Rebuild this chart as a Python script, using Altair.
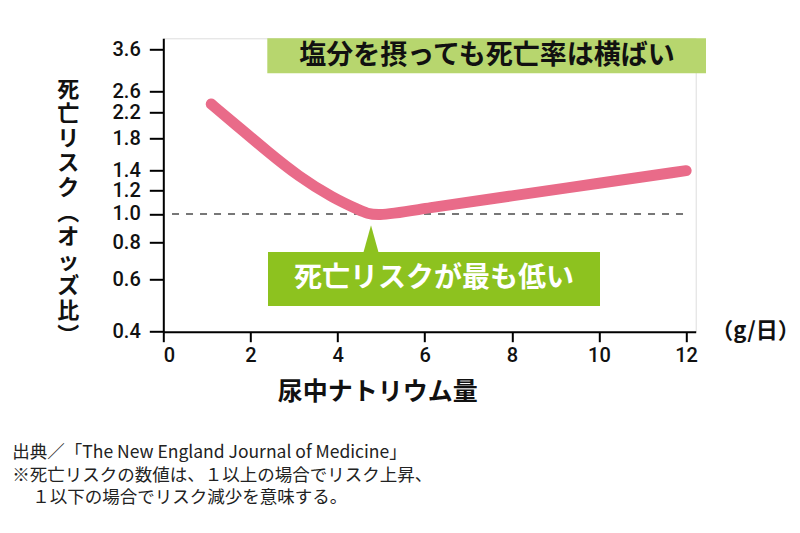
import altair as alt
import pandas as pd

# ---- data ----
sodium = [1.1, 1.6, 2.4, 3.1, 3.9, 4.5, 4.85, 6, 8, 10, 12]
odds = [2.35, 2.04, 1.62, 1.34, 1.13, 1.03, 0.975, 1.045, 1.15, 1.27, 1.40]
y_ticks = [0.4, 0.6, 0.8, 1.0, 1.2, 1.4, 1.8, 2.2, 2.6, 3.6]
x_ticks = [0, 2, 4, 6, 8, 10, 12]
ref_x = [0.2, 12]
ref_y = [1.0]

top_label = ["塩分を摂っても死亡率は横ばい"]
min_label = ["死亡リスクが最も低い"]
unit_label = ["（g/日）"]
x_title = "尿中ナトリウム量"
y_title_chars = ["死", "亡", "リ", "ス", "ク", "︵", "オ", "ッ", "ズ", "比", "︶"]
footer_lines_a = [
    "出典／「The New England Journal of Medicine」",
    "※死亡リスクの数値は、１以上の場合でリスク上昇、",
]
footer_line_b = ["１以下の場合でリスク減少を意味する。"]

CJK = "Noto Sans CJK JP"
NUM = "Roboto"
PINK = "#e96b89"
LIGHT_GREEN = "#b7d66e"
GREEN = "#8dc21f"

W, H = 532.4, 293.4

curve_df = pd.DataFrame({"sodium": sodium, "odds": odds})
ref_df = pd.DataFrame({"x0": [ref_x[0]], "x1": [ref_x[1]], "y": ref_y})

x_scale = alt.Scale(domain=[0, 12.22], nice=False, zero=False)
y_scale = alt.Scale(type="log", domain=[0.4, 3.92], nice=False)

x_axis = alt.Axis(
    values=x_ticks, format="d", grid=False, labelOverlap=False,
    domainColor="black", domainWidth=2, tickColor="black", tickWidth=2,
    tickSize=10, labelPadding=4, labelFont=NUM, labelFontSize=20,
    labelFontWeight=500, labelColor="#111",
    title=x_title, titleFont=CJK, titleFontSize=25, titleFontWeight="bold",
    titleColor="#111", titleX=214, titleY=60, titleAlign="center",
    titleBaseline="middle",
)
y_axis = alt.Axis(
    values=y_ticks, format=".1f", grid=False, labelOverlap=False,
    domainColor="black", domainWidth=2, tickColor="black", tickWidth=2,
    tickSize=14, labelPadding=9, labelFont=NUM, labelFontSize=20,
    labelFontWeight=500, labelColor="#111",
    title=y_title_chars, titleFont=CJK, titleFontSize=22, titleFontWeight="bold",
    titleColor="#111", titleAngle=0, titleX=-95.5, titleY=50.7,
    titleAlign="center", titleBaseline="middle", titleLineHeight=24.6,
)

ref = alt.Chart(ref_df).mark_rule(
    color="#777777", strokeWidth=2, strokeDash=[7, 7]
).encode(
    x=alt.X("x0:Q", scale=x_scale, axis=x_axis),
    x2="x1:Q",
    y=alt.Y("y:Q", scale=y_scale, axis=y_axis),
)

line = alt.Chart(curve_df).mark_line(
    color=PINK, strokeWidth=11, strokeCap="round", strokeJoin="round",
    interpolate="basis",
).encode(
    x=alt.X("sodium:Q", scale=x_scale),
    y=alt.Y("odds:Q", scale=y_scale),
)

top_df = pd.DataFrame({"label": top_label})
top_box = alt.Chart(top_df).mark_rect(color=LIGHT_GREEN).encode(
    x=alt.value(104), x2=alt.value(542.7), y=alt.value(0), y2=alt.value(35)
)
top_text = alt.Chart(top_df).mark_text(
    font=CJK, fontSize=27, fontWeight="bold", color="#111",
    align="center", baseline="middle",
).encode(x=alt.value(323.7), y=alt.value(18), text="label:N")

min_df = pd.DataFrame({"label": min_label})
pointer = alt.Chart(min_df).mark_point(
    shape="M-0.556,1L0,-1L0.556,1Z", size=729, filled=True, opacity=1,
    color=GREEN,
).encode(x=alt.value(207.7), y=alt.value(200.5))
min_box = alt.Chart(min_df).mark_rect(color=GREEN).encode(
    x=alt.value(104.7), x2=alt.value(436.7), y=alt.value(213.7), y2=alt.value(267.7)
)
min_text = alt.Chart(min_df).mark_text(
    font=CJK, fontSize=28, fontWeight="bold", color="white",
    align="center", baseline="middle",
).encode(x=alt.value(270.7), y=alt.value(241), text="label:N")

unit_df = pd.DataFrame({"label": unit_label})
unit_text = alt.Chart(unit_df).mark_text(
    font=CJK, fontSize=22, fontWeight="bold", color="#111",
    align="left", baseline="middle",
).encode(x=alt.value(548), y=alt.value(293), text="label:N")

foot_df = pd.DataFrame({"k": [0]})
footer_a = alt.Chart(foot_df).mark_text(
    text=footer_lines_a, font=CJK, fontSize=17.5, fontWeight=400, color="#222",
    align="left", baseline="middle", lineHeight=22.5,
).encode(x=alt.value(-151), y=alt.value(415))
footer_b = alt.Chart(pd.DataFrame({"label": footer_line_b})).mark_text(
    font=CJK, fontSize=17.5, fontWeight=400, color="#222",
    align="left", baseline="middle",
).encode(x=alt.value(-131), y=alt.value(460), text="label:N")

chart = alt.layer(
    ref, line, top_box, top_text, pointer, min_box, min_text, unit_text,
    footer_a, footer_b
).properties(
    width=W, height=H,
    autosize=alt.AutoSizeParams(type="none"),
    padding={"left": 163.3, "top": 38.3, "right": 104.3, "bottom": 201.3},
).configure_view(stroke=None).configure(background="white")

chart.save("out.html", embed_options={"renderer": "svg", "actions": False})
